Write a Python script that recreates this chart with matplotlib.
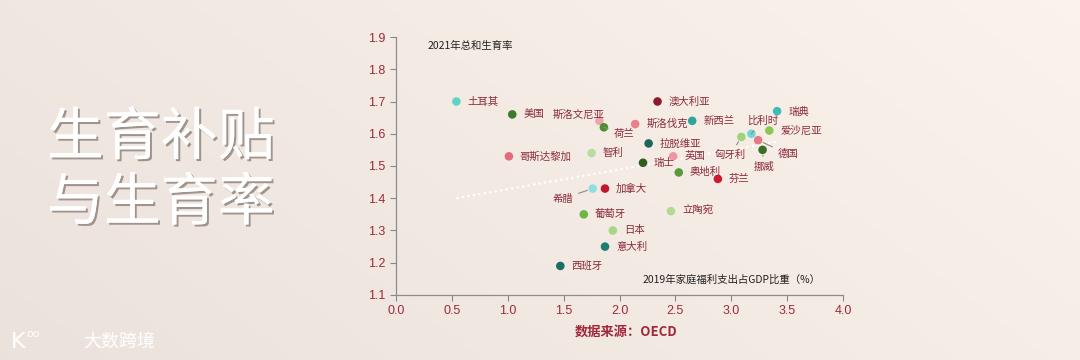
import numpy as np
import matplotlib
matplotlib.use('Agg')
import matplotlib.pyplot as plt
import matplotlib.patheffects as pe

plt.rcParams['font.family'] = ['Noto Sans CJK SC', 'DejaVu Sans']
plt.rcParams['axes.unicode_minus'] = False

# 数据：家庭福利支出占GDP比重(%) 与 2021年总和生育率
countries = ['土耳其', '美国', '斯洛文尼亚', '荷兰', '哥斯达黎加', '智利', '澳大利亚',
             '斯洛伐克', '新西兰', '拉脱维亚', '瑞士', '英国', '奥地利', '芬兰',
             '瑞典', '比利时', '爱沙尼亚', '匈牙利', '德国', '挪威', '希腊',
             '加拿大', '葡萄牙', '立陶宛', '日本', '意大利', '西班牙']
spending = [0.54, 1.04, 1.82, 1.86, 1.01, 1.75, 2.34,
            2.14, 2.65, 2.26, 2.21, 2.48, 2.53, 2.88,
            3.41, 3.18, 3.34, 3.09, 3.24, 3.28, 1.76,
            1.87, 1.68, 2.46, 1.94, 1.87, 1.47]
fertility = [1.70, 1.66, 1.64, 1.62, 1.53, 1.54, 1.70,
             1.63, 1.64, 1.57, 1.51, 1.53, 1.48, 1.46,
             1.67, 1.60, 1.61, 1.59, 1.58, 1.55, 1.43,
             1.43, 1.35, 1.36, 1.30, 1.25, 1.19]
colors = ['#5fd3c8', '#3d7a2a', '#f0a3ad', '#4f8f2f', '#e26c7c', '#b8dd9e', '#8b1a2a',
          '#e8808c', '#2fa49a', '#1a6658', '#2f5e1f', '#ef96a4', '#5a9a3a', '#d0182e',
          '#3fbcb4', '#6dd6d6', '#8dc652', '#9fd37a', '#e87884', '#3a6e26', '#8ee0dc',
          '#c0182a', '#6ab842', '#b0dc92', '#a5d880', '#1d7d70', '#1d6e62']

# 趋势线两端
trend_x = [0.54, 3.40]
trend_y = [1.40, 1.575]

# 标签偏移(像素)，以及是否画引线
offsets = {
    '斯洛文尼亚': (-21, 6, False),
    '荷兰': (20, -7, True),
    '比利时': (11, 13, True),
    '匈牙利': (-11, -18, True),
    '德国': (30, -14, True),
    '挪威': (1, -17, True),
    '希腊': (-30, -10, True),
}

fig = plt.figure(figsize=(10.8, 3.6), dpi=100)
fig.patch.set_facecolor('#ece3dc')

# 背景渐变
bg = fig.add_axes([0, 0, 1, 1], zorder=-10)
gx = np.linspace(0, 1, 200)
gy = np.linspace(0, 1, 60)
GX, GY = np.meshgrid(gx, gy)
shade = 0.895 + 0.045 * GX + 0.02 * GY
img = np.dstack([shade * 1.03, shade * 0.99, shade * 0.965])
bg.imshow(np.clip(img, 0, 1), aspect='auto', extent=[0, 1, 0, 1], origin='lower')
bg.axis('off')

ax = fig.add_axes([0.3667, 0.1806, 0.4139, 0.7166])
ax.set_facecolor('none')

ax.scatter(spending, fertility, c=colors, s=38, zorder=3, linewidths=0)
ax.plot(trend_x, trend_y, color='white', lw=1.6, ls=(0, (1, 1.5)), zorder=2)

lab_color = '#8b2a3a'
px = 72 / 100
for name, x, y in zip(countries, spending, fertility):
    if name in offsets:
        dx, dy, line = offsets[name]
        ax.annotate(name, (x, y), xytext=(dx * px, dy * px), textcoords='offset points',
                    ha='center', va='center', fontsize=7.5, color=lab_color,
                    arrowprops=dict(arrowstyle='-', color='#8a8a8a', lw=0.8,
                                    shrinkA=2, shrinkB=4) if line else None)
    else:
        ax.annotate(name, (x, y), xytext=(11 * px, 0), textcoords='offset points',
                    ha='left', va='center', fontsize=7.5, color=lab_color)

ax.set_xlim(0, 4.0)
ax.set_ylim(1.1, 1.9)
ax.set_xticks(np.arange(0, 4.01, 0.5))
ax.set_yticks(np.arange(1.1, 1.91, 0.1))
ax.set_xticklabels([f'{v:.1f}' for v in np.arange(0, 4.01, 0.5)], family='Liberation Sans')
ax.set_yticklabels([f'{v:.1f}' for v in np.arange(1.1, 1.91, 0.1)], family='Liberation Sans')
ax.tick_params(colors='#888888', labelcolor='#a0283a', labelsize=9, length=4, width=0.8)
for s in ['top', 'right']:
    ax.spines[s].set_visible(False)
for s in ['left', 'bottom']:
    ax.spines[s].set_color('#8c8c8c')
    ax.spines[s].set_linewidth(0.9)

ax.text(0.07, 0.985, '2021年总和生育率', transform=ax.transAxes, fontsize=7.5,
        color='#222222', va='top')
ax.text(0.95, 0.04, '2019年家庭福利支出占GDP比重（%）', transform=ax.transAxes,
        fontsize=7.5, color='#222222', ha='right', va='bottom')

fig.text(0.58, 0.078, '数据来源：OECD', fontsize=9.5, color='#a0283a',
         ha='center', va='center', fontweight='bold')

shadow = [pe.withSimplePatchShadow(offset=(1.5, -1.5), shadow_rgbFace='#6b5d55', alpha=0.6),
          pe.Normal()]
fig.text(0.149, 0.525, '生育补贴\n与生育率', fontsize=41, color='white', ha='center',
         va='center', linespacing=1.15, path_effects=shadow)

fig.text(0.01, 0.05, 'K', fontsize=16, color='white', ha='left', va='center',
         family='DejaVu Sans')
fig.text(0.024, 0.072, 'oo', fontsize=8, color='white', ha='left', va='center',
         family='DejaVu Sans')
fig.text(0.077, 0.05, '大数跨境', fontsize=13, color='white', ha='left', va='center')

fig.savefig('out.png', dpi=100, facecolor=fig.get_facecolor())
